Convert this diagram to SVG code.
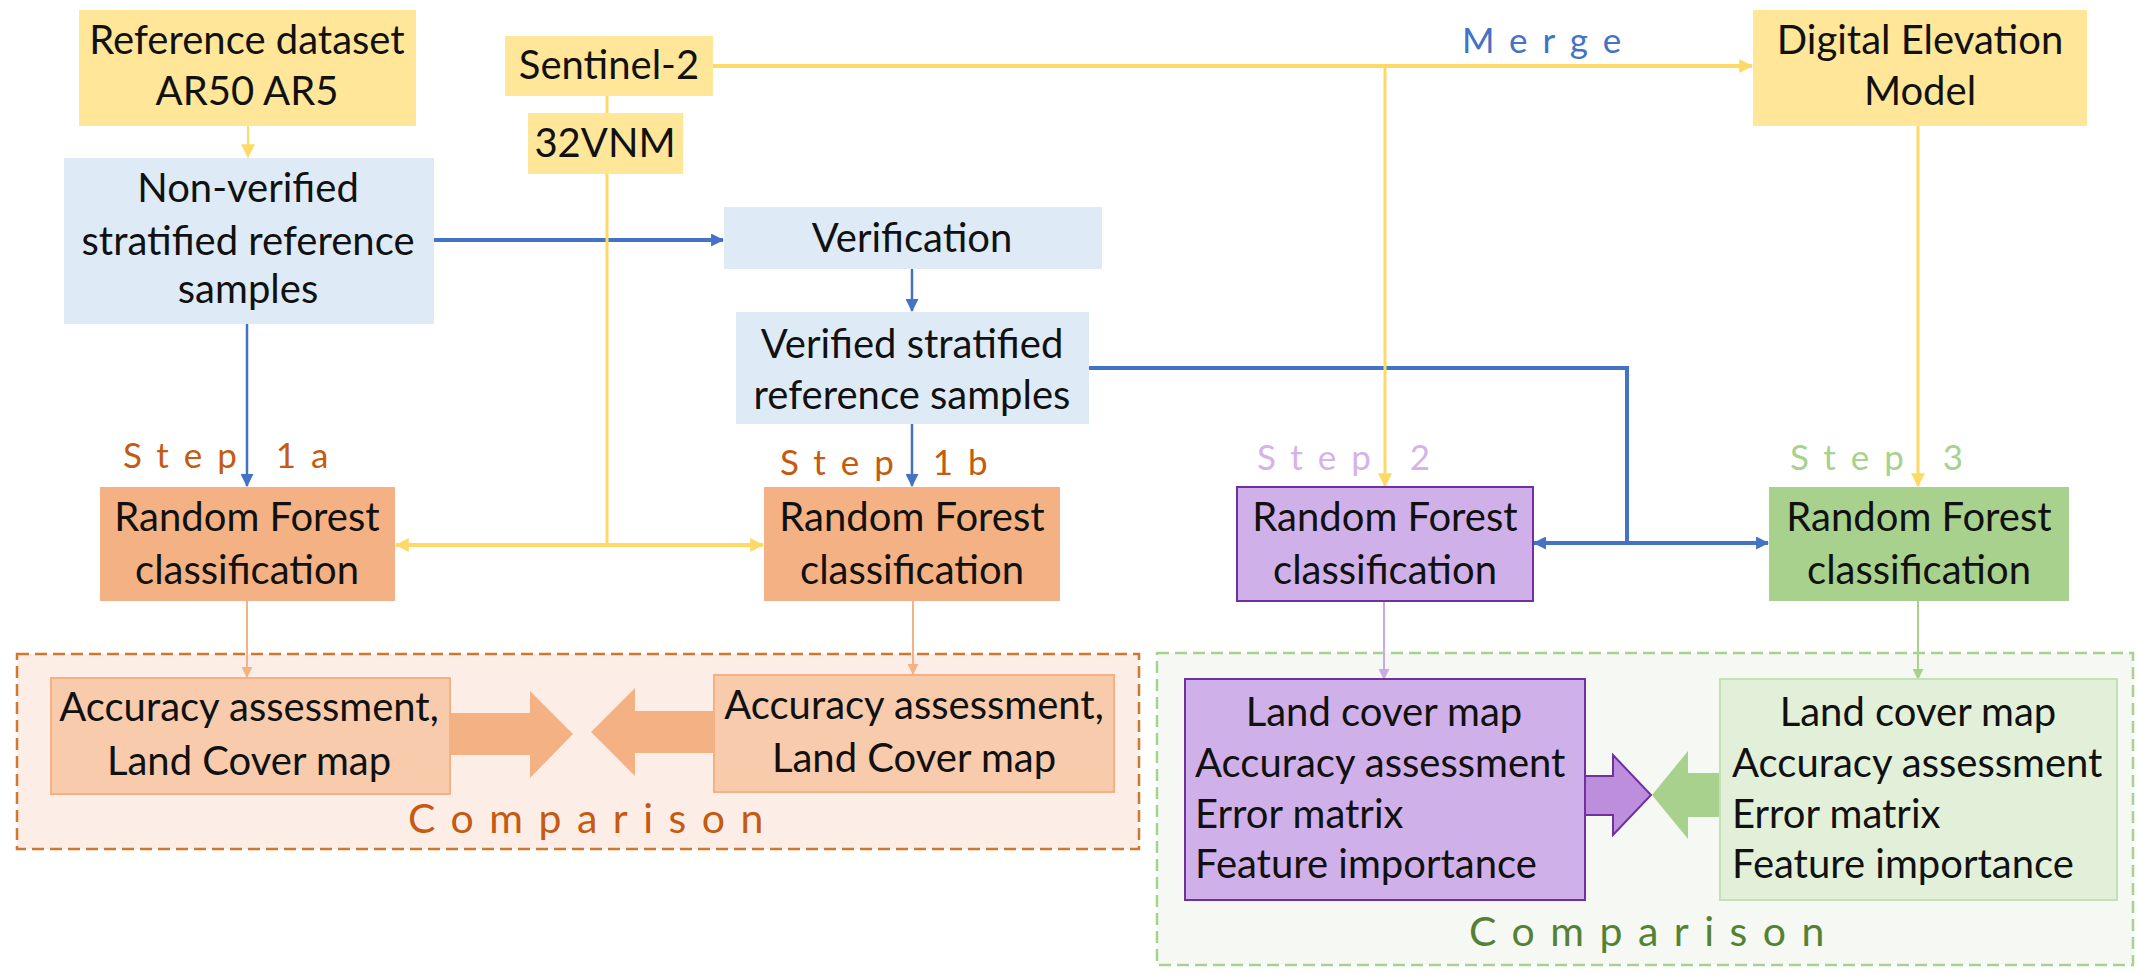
<svg xmlns="http://www.w3.org/2000/svg" width="2139" height="973" viewBox="0 0 2139 973">
<style>
.t{font-family:Lato,"Open Sans","DejaVu Sans",sans-serif;font-size:40px;fill:#111;text-anchor:middle}
.tl{font-family:Lato,"Open Sans","DejaVu Sans",sans-serif;font-size:40px;fill:#111;text-anchor:start}
.sp{font-family:Lato,"Open Sans","DejaVu Sans",sans-serif;font-size:35px;letter-spacing:15px;text-anchor:start}
.cmp{font-family:Lato,"Open Sans","DejaVu Sans",sans-serif;font-size:41px;letter-spacing:15.5px;text-anchor:start}
.yel{fill:#FFE699}
.blu{fill:#DEEBF7}
.org{fill:#F4B183}
.orgi{fill:#F8CBAD;stroke:#F4B183;stroke-width:2}
.pur{fill:#D0B0E8;stroke:#7030A0;stroke-width:2}
.grn{fill:#A9D18E}
.grni{fill:#E2F0D9;stroke:#C5E0B4;stroke-width:2}
.cb{fill:none;stroke:#4472C4}
.cy{fill:none;stroke:#FFD966}
</style>
<defs>
<marker id="ab" viewBox="0 0 12 12" refX="11" refY="6" markerWidth="13" markerHeight="13" markerUnits="userSpaceOnUse" orient="auto-start-reverse"><path d="M0,0 L12,6 L0,12 z" fill="#4472C4"/></marker>
<marker id="ay" viewBox="0 0 12 12" refX="11" refY="6" markerWidth="14" markerHeight="14" markerUnits="userSpaceOnUse" orient="auto-start-reverse"><path d="M0,0 L12,6 L0,12 z" fill="#FFD966"/></marker>
<marker id="ao" viewBox="0 0 12 12" refX="11" refY="6" markerWidth="11" markerHeight="11" markerUnits="userSpaceOnUse" orient="auto"><path d="M0,0 L12,6 L0,12 z" fill="#F4B183"/></marker>
<marker id="ap" viewBox="0 0 12 12" refX="11" refY="6" markerWidth="11" markerHeight="11" markerUnits="userSpaceOnUse" orient="auto"><path d="M0,0 L12,6 L0,12 z" fill="#CDA8E6"/></marker>
<marker id="ag" viewBox="0 0 12 12" refX="11" refY="6" markerWidth="11" markerHeight="11" markerUnits="userSpaceOnUse" orient="auto"><path d="M0,0 L12,6 L0,12 z" fill="#A9D18E"/></marker>
</defs>
<rect x="0" y="0" width="2139" height="973" fill="#FFFFFF"/>

<g id="comparison-1">
<rect x="17" y="654" width="1122" height="195" fill="#FCEEE6" stroke="#D0782F" stroke-width="2.5" stroke-dasharray="12 6"/>
<text class="cmp" x="408" y="833" fill="#C55A11">Comparison</text>
</g>
<g id="comparison-2">
<rect x="1157" y="653" width="976" height="312" fill="#F6F8F3" stroke="#A9D18E" stroke-width="2.5" stroke-dasharray="12 6"/>
<text class="cmp" x="1469" y="946" fill="#548235">Comparison</text>
</g>

<g id="connectors">
<path class="cb" d="M434,240 H723" stroke-width="4" marker-end="url(#ab)"/>
<path class="cb" d="M912,269 V311" stroke-width="2.5" marker-end="url(#ab)"/>
<path class="cb" d="M247,324 V486" stroke-width="2.5" marker-end="url(#ab)"/>
<path class="cb" d="M912,424 V486" stroke-width="2.5" marker-end="url(#ab)"/>
<path class="cb" d="M1089,368 H1627 V543" stroke-width="4"/>
<path class="cb" d="M1534,543 H1768" stroke-width="4" marker-start="url(#ab)" marker-end="url(#ab)"/>
<path class="cy" d="M713,66 H1752" stroke-width="4" marker-end="url(#ay)"/>
<path class="cy" d="M1385,66 V486" stroke-width="3" marker-end="url(#ay)"/>
<path class="cy" d="M1918,126 V486" stroke-width="3" marker-end="url(#ay)"/>
<path class="cy" d="M248,126 V157" stroke-width="2" marker-end="url(#ay)"/>
<path class="cy" d="M607,96 V545" stroke-width="3"/>
<path class="cy" d="M396,545 H763" stroke-width="4" marker-start="url(#ay)" marker-end="url(#ay)"/>
<path d="M247,601 V677" fill="none" stroke="#F4B183" stroke-width="2" marker-end="url(#ao)"/>
<path d="M913,601 V674" fill="none" stroke="#F4B183" stroke-width="2" marker-end="url(#ao)"/>
<path d="M1384,601 V679" fill="none" stroke="#CDA8E6" stroke-width="2" marker-end="url(#ap)"/>
<path d="M1918,601 V679" fill="none" stroke="#A9D18E" stroke-width="2" marker-end="url(#ag)"/>
<polygon points="450,713 530,713 530,691 573,734 530,778 530,755 450,755" fill="#F4B183"/>
<polygon points="714,711 635,711 635,688 591,732 635,776 635,753 714,753" fill="#F4B183"/>
<polygon points="1585,776 1613,776 1613,755 1651,795 1613,835 1613,815 1585,815" fill="#BC8EDC" stroke="#7030A0" stroke-width="2"/>
<polygon points="1720,773 1688,773 1688,751 1652,795 1688,839 1688,817 1720,817" fill="#A9D18E"/>
<text class="sp" x="1462" y="53" fill="#4472C4">Merge</text>
</g>

<g id="reference-dataset">
<rect class="yel" x="79" y="10" width="337" height="116"/>
<text class="t" x="247" y="54">Reference dataset</text>
<text class="t" x="247" y="105">AR50 AR5</text>
</g>
<g id="sentinel-2">
<rect class="yel" x="505" y="36" width="208" height="60"/>
<text class="t" x="609" y="79">Sentinel-2</text>
</g>
<g id="tile-32vnm">
<rect class="yel" x="528" y="113" width="155" height="61"/>
<text class="t" x="605" y="157">32VNM</text>
</g>
<g id="dem">
<rect class="yel" x="1753" y="10" width="334" height="116"/>
<text class="t" x="1920" y="54">Digital Elevation</text>
<text class="t" x="1920" y="105">Model</text>
</g>
<g id="non-verified">
<rect class="blu" x="64" y="158" width="370" height="166"/>
<text class="t" x="248" y="202">Non-verified</text>
<text class="t" x="248" y="255">stratified reference</text>
<text class="t" x="248" y="303">samples</text>
</g>
<g id="verification">
<rect class="blu" x="724" y="207" width="378" height="62"/>
<text class="t" x="912" y="252">Verification</text>
</g>
<g id="verified">
<rect class="blu" x="736" y="312" width="353" height="112"/>
<text class="t" x="912" y="358">Verified stratified</text>
<text class="t" x="912" y="409">reference samples</text>
</g>
<g id="rf-step1a">
<text class="sp" x="123" y="468" fill="#C55A11">Step 1a</text>
<rect class="org" x="100" y="487" width="295" height="114"/>
<text class="t" x="247" y="531">Random Forest</text>
<text class="t" x="247" y="584">classification</text>
</g>
<g id="rf-step1b">
<text class="sp" x="780" y="475" fill="#C55A11">Step 1b</text>
<rect class="org" x="764" y="487" width="296" height="114"/>
<text class="t" x="912" y="531">Random Forest</text>
<text class="t" x="912" y="584">classification</text>
</g>
<g id="rf-step2">
<text class="sp" x="1257" y="470" fill="#D5B2EA">Step 2</text>
<rect class="pur" x="1237" y="487" width="296" height="114"/>
<text class="t" x="1385" y="531">Random Forest</text>
<text class="t" x="1385" y="584">classification</text>
</g>
<g id="rf-step3">
<text class="sp" x="1790" y="470" fill="#A9D18E">Step 3</text>
<rect class="grn" x="1769" y="487" width="300" height="114"/>
<text class="t" x="1919" y="531">Random Forest</text>
<text class="t" x="1919" y="584">classification</text>
</g>
<g id="result-1a">
<rect class="orgi" x="51" y="678" width="399" height="116"/>
<text class="t" x="249" y="721">Accuracy assessment,</text>
<text class="t" x="249" y="775">Land Cover map</text>
</g>
<g id="result-1b">
<rect class="orgi" x="714" y="675" width="400" height="117"/>
<text class="t" x="914" y="719">Accuracy assessment,</text>
<text class="t" x="914" y="772">Land Cover map</text>
</g>
<g id="result-2">
<rect class="pur" x="1185" y="679" width="400" height="221"/>
<text class="t" x="1384" y="726">Land cover map</text>
<text class="tl" x="1195" y="777">Accuracy assessment</text>
<text class="tl" x="1195" y="828">Error matrix</text>
<text class="tl" x="1195" y="878">Feature importance</text>
</g>
<g id="result-3">
<rect class="grni" x="1720" y="679" width="397" height="221"/>
<text class="t" x="1918" y="726">Land cover map</text>
<text class="tl" x="1732" y="777">Accuracy assessment</text>
<text class="tl" x="1732" y="828">Error matrix</text>
<text class="tl" x="1732" y="878">Feature importance</text>
</g>
</svg>
